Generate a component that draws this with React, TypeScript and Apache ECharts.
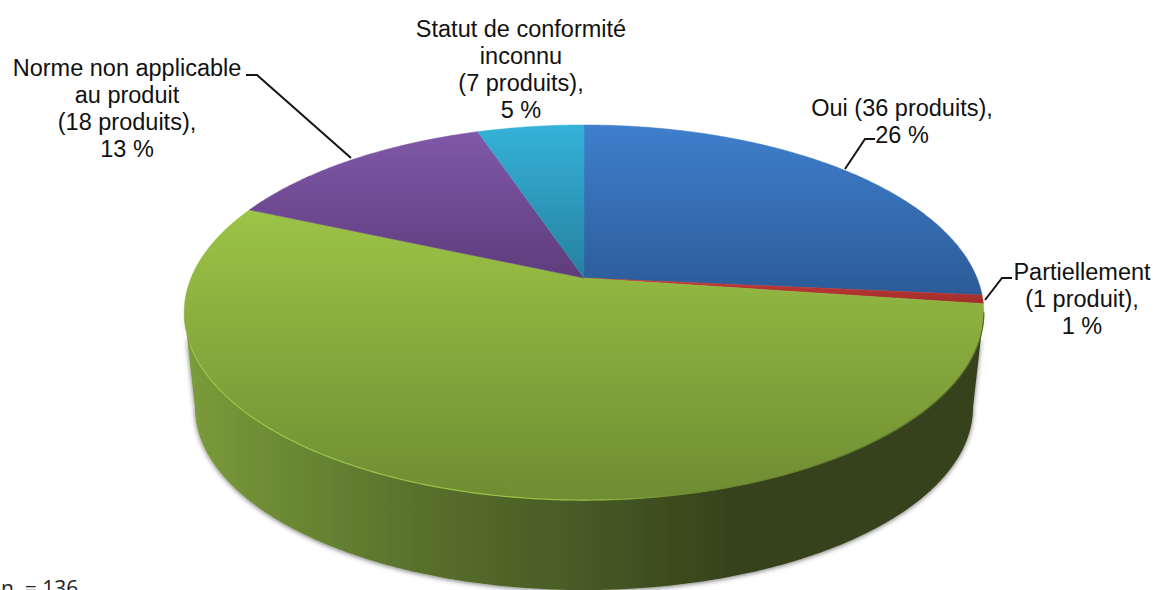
import React, { useEffect, useRef } from "react";
import * as echarts from "echarts";

const categories = ["Oui", "Partiellement", "Non", "Norme non applicable au produit", "Statut de conformité inconnu"];
const products = [36, 1, 74, 18, 7];
const labelLines = [
  ["Oui (36 produits),", "26 %"],
  ["Partiellement", "(1 produit),", "1 %"],
  ["Non (74 produits),", "54 %"],
  ["Norme non applicable", "au produit", "(18 produits),", "13 %"],
  ["Statut de conformité", "inconnu", "(7 produits),", "5 %"],
];
const footnote = "n  = 136";

const sliceColors = [
  ["#3f7fcd", "#2b5a96"],
  ["#c03a36", "#9e2c29"],
  ["#9cc446", "#6f8c32"],
  ["#8058a8", "#5d3c7c"],
  ["#34b2d8", "#26809e"],
];
const sliceGradientY = [
  [125, 300],
  [280, 305],
  [210, 500],
  [132, 280],
  [125, 280],
];
const labelCenters = [
  [902, 108],
  [1082, 272],
  [557, 437],
  [127, 68],
  [521, 29],
];
const leaders = [
  [[875, 139], [865, 139], [845, 169]],
  [[1012, 278], [1002, 278], [985, 300]],
  [[246, 75], [257, 75], [351, 158]],
];

// Perspective projection of the pie disc
const CX = 584;
const APEX_Y = 278;
const A = 393;
const B = 181.2;
const P = 0.184;
const LOWER_SCALE = 0.973;
const LOWER_Y = 374;
const project = (deg: number, scale = 1, y0 = APEX_Y) => {
  const t = (deg * Math.PI) / 180;
  const u = Math.sin(t);
  const v = -Math.cos(t);
  const d = 1 - P * v;
  return [CX + (scale * A * u) / d, y0 + (scale * B * v) / d];
};
const arcPoints = (from: number, to: number, scale = 1, y0 = APEX_Y) => {
  const n = Math.max(2, Math.ceil(Math.abs(to - from) * 2));
  const pts: number[][] = [];
  for (let i = 0; i <= n; i++) pts.push(project(from + ((to - from) * i) / n, scale, y0));
  return pts;
};
const WALL_FROM = 100.6;
const WALL_TO = 259.4;
const RIM_TO = 250;
const total = products.reduce((a, b) => a + b, 0);
const startAngle = (idx: number) =>
  (products.slice(0, idx).reduce((a, b) => a + b, 0) / total) * 360;

const linear = (x0: number, y0: number, x1: number, y1: number, stops: [number, string][]) =>
  new echarts.graphic.LinearGradient(
    x0, y0, x1, y1,
    stops.map(([offset, color]) => ({ offset, color })),
    true
  );

export default function App() {
  const ref = useRef<HTMLDivElement>(null);
  useEffect(() => {
    document.body.style.margin = "0";
    document.body.style.overflow = "hidden";
    const chart = echarts.init(ref.current!, null, { renderer: "svg" });
    const textStyle = { fontFamily: "Liberation Sans", fontSize: 23.5, fill: "#111111" };
    const texts: any[] = [];
    labelLines.forEach((lines, i) => {
      lines.forEach((line, j) => {
        texts.push({
          type: "text",
          x: labelCenters[i][0],
          y: labelCenters[i][1] + j * 27,
          style: { ...textStyle, text: line, textAlign: "center", textVerticalAlign: "middle" },
        });
      });
    });
    chart.setOption({
      animation: false,
      backgroundColor: "#ffffff",
      graphic: {
        elements: [
          ...leaders.map((points) => ({
            type: "polyline",
            shape: { points },
            style: { stroke: "#141414", lineWidth: 2, fill: "none" },
          })),
          ...texts,
          {
            type: "text",
            x: 1,
            y: 577,
            style: { text: footnote, fontFamily: "Open Sans", fontSize: 21, fill: "#222222" },
          },
        ],
      },
      series: [
        {
          type: "custom",
          name: "paroi",
          coordinateSystem: "none",
          z: 1,
          data: [products[2]],
          renderItem: () => {
            const points = [
              ...arcPoints(WALL_FROM, WALL_TO),
              ...arcPoints(WALL_TO, WALL_FROM, LOWER_SCALE, LOWER_Y),
            ];
            return {
              type: "polygon",
              shape: { points },
              style: {
                fill: linear(190, 0, 980, 0, [
                  [0, "#7b9b3a"],
                  [0.13, "#6a8833"],
                  [0.3, "#586f2b"],
                  [0.5, "#465a25"],
                  [0.68, "#36431a"],
                  [1, "#36421a"],
                ]),
                shadowBlur: 5,
                shadowColor: "rgba(0,0,0,0.55)",
                shadowOffsetY: 1,
              },
            };
          },
        },
        {
          type: "custom",
          name: "produits",
          coordinateSystem: "none",
          z: 2,
          data: products,
          renderItem: (params: any, api: any) => {
            const idx = params.dataIndex;
            const from = startAngle(idx);
            const to = from + (api.value(0) / total) * 360;
            const [c0, c1] = sliceColors[idx];
            const [y0, y1] = sliceGradientY[idx];
            const fill = linear(0, y0, 0, y1, [[0, c0], [1, c1]]);
            const children: any[] = [
              {
                type: "polygon",
                shape: { points: [[CX, APEX_Y], ...arcPoints(from, to)] },
                style: { fill, stroke: fill, lineWidth: 0.5 },
              },
            ];
            if (idx === 2) {
              children.push({
                type: "polyline",
                shape: { points: arcPoints(WALL_FROM, RIM_TO) },
                style: {
                  fill: "none",
                  lineWidth: 1.2,
                  stroke: linear(190, 0, 980, 0, [
                    [0, "#9bc449"],
                    [0.5, "#98bf47"],
                    [0.62, "#6f8c32"],
                    [1, "#55692a"],
                  ]),
                },
              });
            }
            return { type: "group", children };
          },
        },
      ],
    });
    return () => chart.dispose();
  }, []);
  return <div ref={ref} style={{ width: 1153, height: 590 }} aria-label={categories.join(", ")} />;
}
